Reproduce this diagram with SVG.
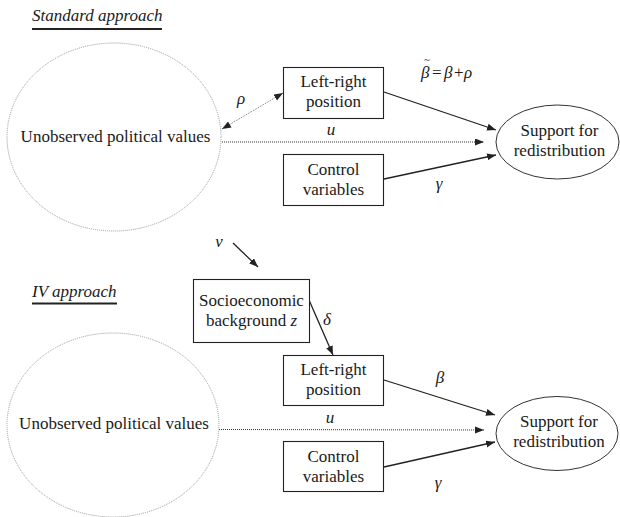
<svg xmlns="http://www.w3.org/2000/svg" width="620" height="517" viewBox="0 0 620 517">
<style>
text{font-family:'Liberation Serif','Times New Roman',serif;font-size:17px;fill:#1a1a1a}
.c{text-anchor:middle}
.i{font-style:italic}
.box{fill:#fff;stroke:#222;stroke-width:1.1}
.lat{fill:none;stroke:#9a9a9a;stroke-width:1;stroke-dasharray:1 1}
.out{fill:#fff;stroke:#333;stroke-width:1}
.arr{fill:none;stroke:#222;stroke-width:1.3}
.dot{fill:none;stroke:#333;stroke-width:1;stroke-dasharray:1 1}
.bi{fill:none;stroke:#777;stroke-width:1;stroke-dasharray:1 1}
.ul{stroke:#222;stroke-width:2}
</style>
<defs>
<marker id="ah" markerUnits="userSpaceOnUse" markerWidth="10" markerHeight="8" refX="9" refY="3.5" orient="auto">
<path d="M0,0 L9,3.5 L0,7 z" fill="#222"/>
</marker>
<marker id="as" markerUnits="userSpaceOnUse" markerWidth="10" markerHeight="8" refX="0" refY="3.5" orient="auto">
<path d="M9,0 L0,3.5 L9,7 z" fill="#222"/>
</marker>
</defs>
<g id="title-standard">
<text x="32" y="21" class="i" font-family="Liberation Serif">Standard approach</text>
<line x1="32" y1="29" x2="162" y2="29" class="ul"/>
</g>
<g id="title-iv">
<text x="32" y="297" class="i" font-family="Liberation Serif">IV approach</text>
<line x1="32" y1="303.5" x2="117" y2="303.5" class="ul"/>
</g>

<g id="connectors">
<path class="bi" d="M222,129 L283,93" marker-start="url(#as)" marker-end="url(#ah)"/>
<path class="dot" d="M222,142 L484,142" marker-end="url(#ah)"/>
<path class="arr" d="M384,92 L496,130" marker-end="url(#ah)"/>
<path class="arr" d="M384,179 L496,155" marker-end="url(#ah)"/>
<path class="arr" d="M233,243 L258,267" marker-end="url(#ah)"/>
<path class="arr" d="M309,300 L333,355" marker-end="url(#ah)"/>
<path class="dot" d="M219,429.5 L484,430" marker-end="url(#ah)"/>
<path class="arr" d="M384,380 L495,415" marker-end="url(#ah)"/>
<path class="arr" d="M384,467 L495,442" marker-end="url(#ah)"/>
</g>

<g id="labels">
<text x="427" y="63" class="c" style="font-size:11px" font-family="Liberation Serif">~</text>
<text x="421" y="78" class="i" font-family="Liberation Serif">&#946;</text>
<text x="432" y="78" font-family="Liberation Serif">=</text>
<text x="444" y="78" class="i" font-family="Liberation Serif">&#946;</text>
<text x="454" y="78" font-family="Liberation Serif">+</text>
<text x="464" y="78" class="i" font-family="Liberation Serif">&#961;</text>
<text x="241" y="104" class="c i" font-family="Liberation Serif">&#961;</text>
<text x="331" y="135" class="c i" font-family="Liberation Serif">u</text>
<text x="439" y="189" class="c i" font-family="Liberation Serif">&#947;</text>
<text x="219" y="247" class="c i" font-family="Liberation Serif">v</text>
<text x="327" y="325" class="c i" font-family="Liberation Serif">&#948;</text>
<text x="440" y="383" class="c i" font-family="Liberation Serif">&#946;</text>
<text x="330" y="423" class="c i" font-family="Liberation Serif">u</text>
<text x="438" y="488" class="c i" font-family="Liberation Serif">&#947;</text>
</g>

<g id="unobserved-top">
<ellipse cx="114" cy="137" rx="107" ry="94" class="lat"/>
<text x="115.5" y="142" class="c" font-family="Liberation Serif">Unobserved political values</text>
</g>
<g id="leftright-top">
<rect x="283.5" y="67.5" width="100" height="51" class="box"/>
<text x="333.5" y="87" class="c" font-family="Liberation Serif">Left-right</text>
<text x="333.5" y="107" class="c" font-family="Liberation Serif">position</text>
</g>
<g id="control-top">
<rect x="283.5" y="154.5" width="100" height="51" class="box"/>
<text x="333.5" y="175" class="c" font-family="Liberation Serif">Control</text>
<text x="333.5" y="195" class="c" font-family="Liberation Serif">variables</text>
</g>
<g id="support-top">
<ellipse cx="557.5" cy="142" rx="61.5" ry="37" class="out"/>
<text x="559.5" y="135.5" class="c" font-family="Liberation Serif">Support for</text>
<text x="559.5" y="155.5" class="c" font-family="Liberation Serif">redistribution</text>
</g>

<g id="socio">
<rect x="193.5" y="279.5" width="116" height="63" class="box"/>
<text x="251.5" y="306" class="c" font-family="Liberation Serif">Socioeconomic</text>
<text x="251.5" y="326" class="c" font-family="Liberation Serif">background <tspan class="i">z</tspan></text>
</g>
<g id="unobserved-bottom">
<ellipse cx="113" cy="425" rx="106" ry="92" class="lat"/>
<text x="114" y="429" class="c" font-family="Liberation Serif">Unobserved political values</text>
</g>
<g id="leftright-bottom">
<rect x="283.5" y="355.5" width="100" height="50" class="box"/>
<text x="333.5" y="375" class="c" font-family="Liberation Serif">Left-right</text>
<text x="333.5" y="395" class="c" font-family="Liberation Serif">position</text>
</g>
<g id="control-bottom">
<rect x="283.5" y="441.5" width="100" height="50" class="box"/>
<text x="333.5" y="462" class="c" font-family="Liberation Serif">Control</text>
<text x="333.5" y="482" class="c" font-family="Liberation Serif">variables</text>
</g>
<g id="support-bottom">
<ellipse cx="557" cy="433.5" rx="61" ry="37" class="out"/>
<text x="559" y="427" class="c" font-family="Liberation Serif">Support for</text>
<text x="559" y="447" class="c" font-family="Liberation Serif">redistribution</text>
</g>
</svg>
